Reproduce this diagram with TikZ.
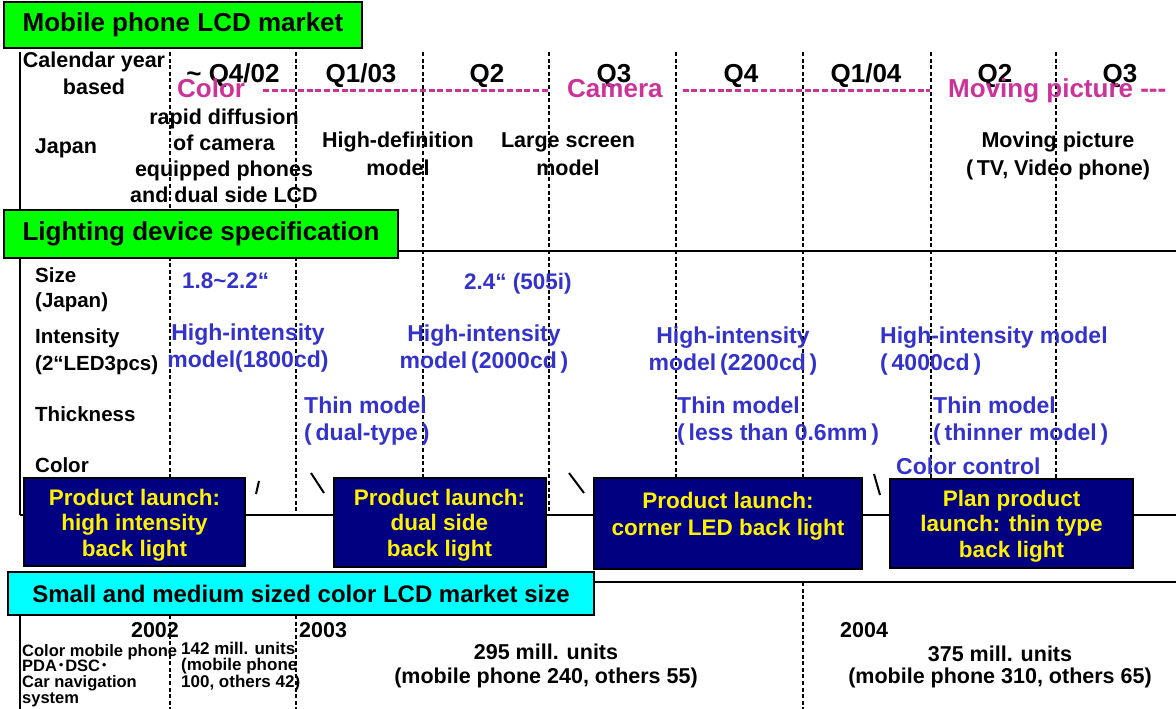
\documentclass[tikz,border=0pt]{standalone}
\usepackage{fontspec}
\setmainfont{Liberation Sans}
\newfontfamily\cjk{Noto Sans CJK JP}
\usetikzlibrary{positioning,calc}
\definecolor{hdrgreen}{RGB}{0,255,0}
\definecolor{hdrcyan}{RGB}{0,255,255}
\definecolor{launch}{RGB}{0,0,128}
\definecolor{mag}{RGB}{204,51,153}
\definecolor{spec}{RGB}{51,51,204}
\newcommand\fsz[2]{\fontsize{#1}{#2}\selectfont\bfseries}
\tikzset{
  hdr/.style={draw=black,line width=2.4pt,fill=hdrgreen,inner sep=0pt,font={\fsz{26}{30}}},
  launchbox/.style={draw=black,line width=2pt,fill=launch,inner sep=0pt},
  rule/.style={line width=2.4pt},
  qsep/.style={line width=2.4pt,dash pattern=on 4pt off 2.6pt},
  pinkrun/.style={draw=mag,line width=3pt,dash pattern=on 6pt off 2.7pt},
  slash/.style={line width=2pt},
  txt/.style={inner sep=0pt,anchor=base,align=center,font={\fsz{21.5}{25.7}}},
  rowlab/.style={txt,anchor=base west,align=left,font={\fsz{20.5}{25}}},
  qlab/.style={txt,font={\fsz{26}{30}}},
  pinklab/.style={txt,anchor=base west,text=mag,font={\fsz{26}{30}}},
  spc/.style={txt,text=spec,font={\fsz{23}{27}}},
  yel/.style={txt,text=yellow,font={\fsz{22.5}{25.5}}},
  mkt/.style={txt,font={\fsz{21.5}{23.5}}},
  small/.style={txt,anchor=base west,align=left,font={\fsz{16.5}{15.6}}}
}

\begin{document}
\begin{tikzpicture}[x=1pt,y=-1pt]
  \useasboundingbox (0,0) rectangle (1176,709);

  \foreach \x in {170,296,423,549,676,803,931,1056}{\draw[qsep] (\x,52)--(\x,515);}
  \foreach \x/\t in {170/615,296/615,803/582}{\draw[qsep] (\x,\t)--(\x,709);}
  \draw[rule] (20,52)--(20,210) (20,258)--(20,515) (20,615)--(20,709);
  \draw[rule] (398,251)--(1176,251) (20,515)--(1176,515) (594,582)--(1176,582);

  \node[hdr,minimum width=358pt,minimum height=46pt] (mkthdr) at (183,25) {Mobile phone LCD market};
  \node[txt,font={\fsz{21.5}{27}}] (cal) at (94,95) {Calendar year\\based};
  \node[txt] (jp) at (66,153) {Japan};

  \node[qlab] (q1) at (233,82) {\textasciitilde\ Q4/02};
  \node[qlab] (q2) at (361,82) {Q1/03};
  \node[qlab] (q3) at (487,82) {Q2};
  \node[qlab] (q4) at (614,82) {Q3};
  \node[qlab] (q5) at (741,82) {Q4};
  \node[qlab] (q6) at (866,82) {Q1/04};
  \node[qlab] (q7) at (995,82) {Q2};
  \node[qlab] (q8) at (1120,82) {Q3};

  \node[pinklab] (clr) at (177,98) {Color};
  \node[pinklab] (cam) at (567,98) {Camera};
  \node[pinklab] (mov) at (948,97) {Moving picture -\kern0pt-\kern0pt-};
  \draw[pinkrun] ([shift={(18pt,7pt)}]clr.base east)--([shift={(-19pt,7pt)}]cam.base west);
  \draw[pinkrun] ([shift={(20pt,7pt)}]cam.base east)--([shift={(-18pt,6pt)}]mov.base west);

  \node[txt] (diffu) at (224,202) {rapid diffusion\\of camera\\equipped phones\\and dual side LCD};
  \node[txt,font={\fsz{21.5}{28}}] (hidef) at (398,175) {High-definition\\model};
  \node[txt,font={\fsz{21.5}{28}}] (large) at (568,175) {Large screen\\model};
  \node[txt,font={\fsz{21.5}{28}}] (movtv) at (1058,175) {Moving picture\\(\,TV, Video phone)};

  \node[hdr,minimum width=394pt,minimum height=48pt] (spchdr) at (201,234) {Lighting device specification};
  \node[rowlab] (size) at (35,307) {Size\\(Japan)};
  \node[rowlab,font={\fsz{20.5}{27}}] (inten) at (35,370) {Intensity\\(2“LED3pcs)};
  \node[rowlab] (thick) at (35,421) {Thickness};
  \node[rowlab] (colr) at (35,472) {Color};

  \node[spc,anchor=base west,font={\fsz{22.5}{25}}] (sz1) at (182,288) {1.8\textasciitilde 2.2“};
  \node[spc,anchor=base west,font={\fsz{22.5}{25}}] (sz2) at (464,289) {2.4“ (505i)};
  \node[spc] (hi1) at (248,367) {High-intensity\\model(1800cd)};
  \node[spc] (hi2) at (484,368) {High-intensity\\model\,(2000cd\,)};
  \node[spc] (hi3) at (733,370) {High-intensity\\model\,(2200cd\,)};
  \node[spc,anchor=base west,align=left] (hi4) at (880,370) {High-intensity model\\(\,4000cd\,)};
  \node[spc,anchor=base west,align=left] (th1) at (304,440) {Thin model\\(\,dual-type\,)};
  \node[spc,anchor=base west,align=left] (th2) at (677,440) {Thin model\\(\,less than 0.6mm\,)};
  \node[spc,anchor=base west,align=left] (th3) at (933,440) {Thin model\\(\,thinner model\,)};
  \node[spc,anchor=base west] (cc) at (896,474) {Color control};

  \draw[slash] (256,494)--(259,481) (311,473)--(324,493) (569,473)--(584,493) (874,474)--(880,495);

  \node[launchbox,minimum width=221pt,minimum height=88pt] (pl1) at (134.5,522) {};
  \node[launchbox,minimum width=212pt,minimum height=89pt] (pl2) at (439.5,522.5) {};
  \node[launchbox,minimum width=268pt,minimum height=91pt] (pl3) at (728,523.5) {};
  \node[launchbox,minimum width=243pt,minimum height=89pt] (pl4) at (1011.5,523.5) {};
  \node[yel] (pl1t) at (134.5,556) {Product launch:\\high intensity\\back light};
  \node[yel] (pl2t) at (439.5,556) {Product launch:\\dual side\\back light};
  \node[yel,font={\fsz{22.5}{27}}] (pl3t) at (728,535) {Product launch:\\corner LED back light};
  \node[yel] (pl4t) at (1011.5,557) {Plan product\\launch: thin type\\back light};

  \node[hdr,fill=hdrcyan,minimum width=586pt,minimum height=43pt,font={\fsz{24}{28}}] (sizehdr) at (301,593.5) {Small and medium sized color LCD market size};
  \node[mkt] (y02) at (155,637) {2002};
  \node[mkt,anchor=base west] (y03) at (299,637) {2003};
  \node[mkt,anchor=base west] (y04) at (840,637) {2004};
  \node[small] (apps) at (22,703) {Color mobile phone\\PDA{\cjk ･}DSC{\cjk ･}\\Car navigation\\system};
  \node[small,font={\fsz{17}{15.6}}] (m02) at (181,687) {142 mill. units\\(mobile phone\\100, others 42)};
  \node[mkt,font={\fsz{21.5}{24}}] (m03) at (546,683) {295 mill. units\\(mobile phone 240, others 55)};
  \node[mkt,font={\fsz{21.5}{22}}] (m04) at (1000,683) {375 mill. units\\(mobile phone 310, others 65)};
\end{tikzpicture}
\end{document}
